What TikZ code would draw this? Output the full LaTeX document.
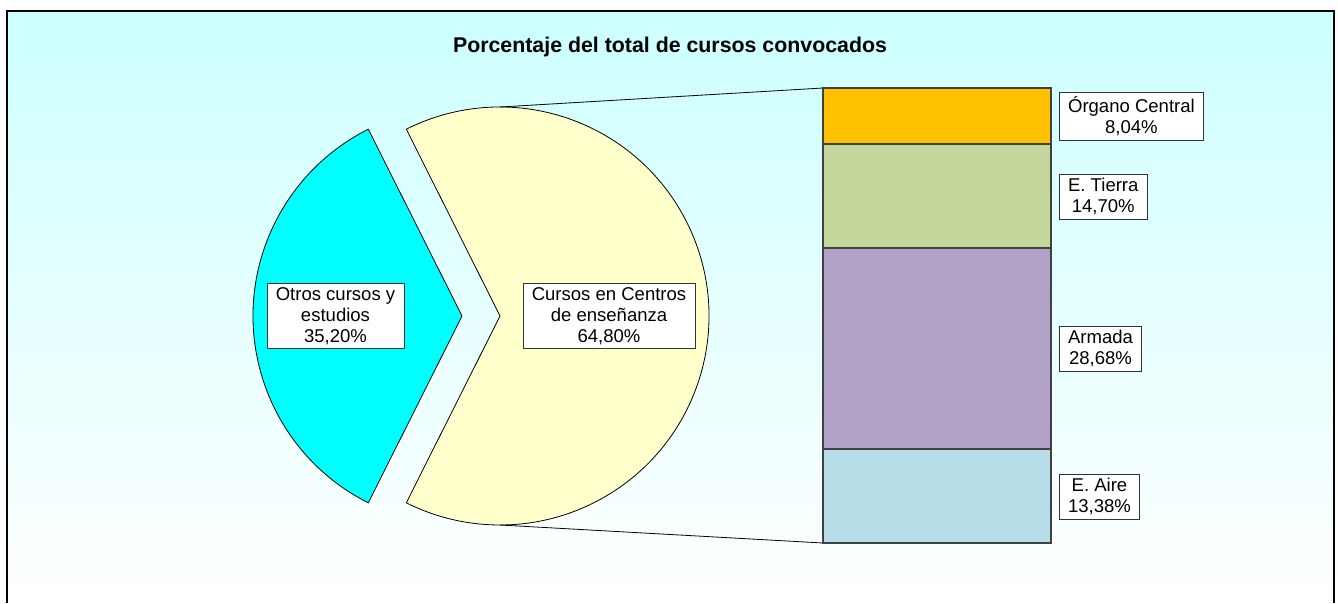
\documentclass[tikz,border=0pt]{standalone}
\usepackage{fontspec}
\setmainfont{Liberation Sans}
\usepackage{tikz}

\definecolor{bgcyan}{HTML}{CCFFFF}
\definecolor{otroscol}{HTML}{00FFFF}
\definecolor{centroscol}{HTML}{FFFFCC}
\definecolor{organocol}{HTML}{FFC000}
\definecolor{tierracol}{HTML}{C3D69B}
\definecolor{armadacol}{HTML}{B2A1C7}
\definecolor{airecol}{HTML}{B7DDE8}

\tikzset{
  slice/.style={draw=black, line width=0.6pt},
  barpart/.style={draw=black!75, line width=0.8pt},
  tag/.style={draw=black!80, fill=white, line width=0.6pt, align=center,
    inner xsep=6.5pt, inner ysep=3pt,
    font=\fontsize{13.9}{15.8}\selectfont},
}

\begin{document}
\begin{tikzpicture}[x=0.75pt, y=-0.75pt]
        \useasboundingbox (0,0) rectangle (1338,603);
        \fill [top color=bgcyan, bottom color=white] (7,11) rectangle (1334,603);          %
        \draw [line width=2.2pt] (7,603) -- (7,11) -- (1334,11) -- (1334,603);            %frame
        \node (title) at (670,47) {\fontsize{16}{19}\selectfont\bfseries Porcentaje del total de cursos convocados};
        \draw [slice, fill=otroscol]   (462,316) -- ++(116.64:209)
              arc [start angle=116.64, end angle=243.36, radius=209] -- cycle;             %35,20
        \draw [slice, fill=centroscol] (500,316) -- ++(-116.64:209)
              arc [start angle=-116.64, end angle=116.64, radius=209] -- cycle;            %64,80
        \coordinate (pietop) at (500,107);                                                 %
        \coordinate (piebot) at (500,525);                                                 %
        \coordinate (bartop) at (823,88);                                                  %
        \coordinate (barbot) at (823,543);                                                 %
        \draw [line width=0.6pt] (pietop) -- (bartop);                                     %
        \draw [line width=0.6pt] (piebot) -- (barbot);                                     %
        \draw [barpart, fill=organocol] (823,88)  rectangle (1051,144);                    %8,04
        \draw [barpart, fill=tierracol] (823,144) rectangle (1051,248);                    %14,70
        \draw [barpart, fill=armadacol] (823,248) rectangle (1051,449);                    %28,68
        \draw [barpart, fill=airecol]   (823,449) rectangle (1051,543);                    %13,38
        \node [tag] (otros)   at (335.5,316) {Otros cursos y\\estudios\\35,20\%};
        \node [tag] (centros) at (609,316)   {Cursos en Centros\\de enseñanza\\64,80\%};
        \node [tag, anchor=west] (organo) at (1059,116.5) {Órgano Central\\8,04\%};
        \node [tag, anchor=west] (tierra) at (1059,196.5) {E. Tierra\\14,70\%};
        \node [tag, anchor=west] (armada) at (1059,348.5) {Armada\\28,68\%};
        \node [tag, anchor=west] (aire)   at (1059,496.5) {E. Aire\\13,38\%};
\end{tikzpicture}
\end{document}
